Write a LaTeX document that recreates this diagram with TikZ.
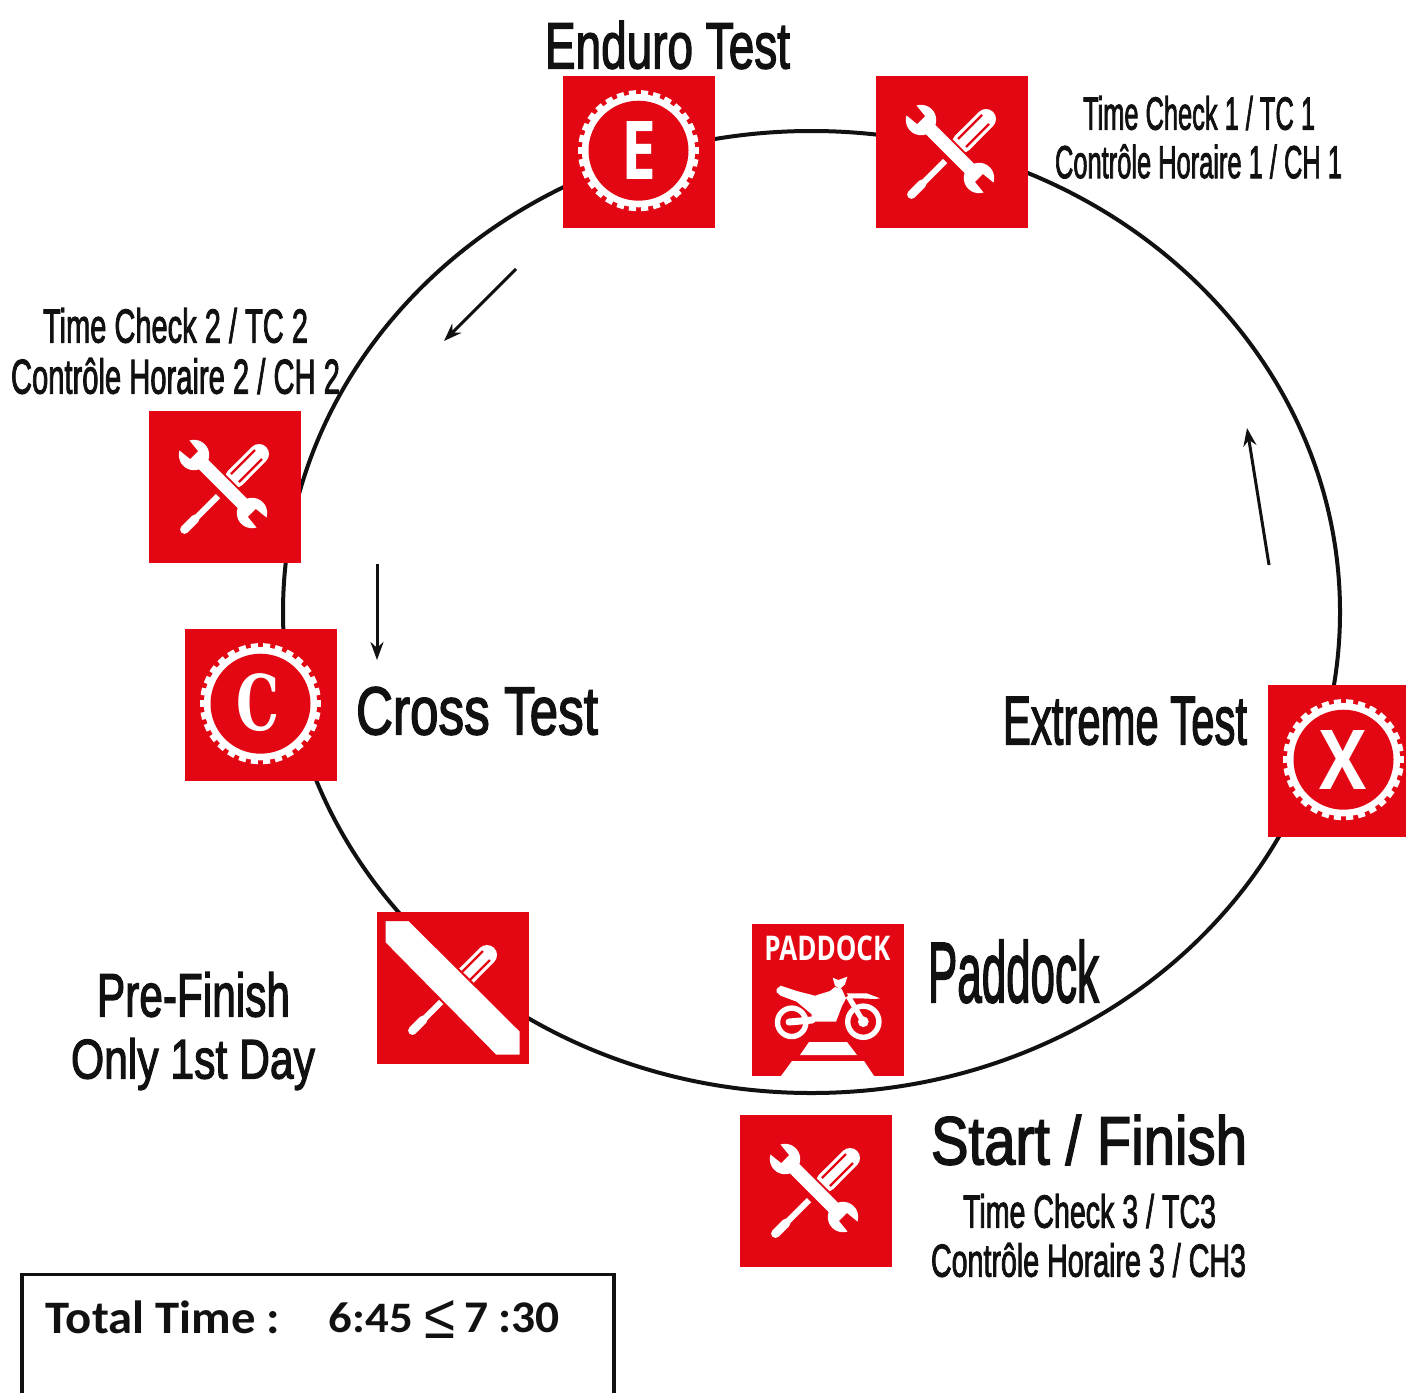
\documentclass[tikz,border=0pt]{standalone}
\usepackage{fontspec}
\usepackage{graphicx}
\usetikzlibrary{calc,arrows.meta}
\setmainfont{Liberation Sans}
\newfontfamily\labf[FakeBold=2.4]{Liberation Sans}
\newfontfamily\iconfam{Open Sans}
\newfontfamily\serfam{DejaVu Serif}
\newfontfamily\carfam{Carlito}
\newcommand\iconf{\iconfam\bfseries}
\newcommand\totf{\carfam\bfseries}
\newfontfamily\symf{Liberation Sans}
\definecolor{ired}{HTML}{E30613}
\definecolor{ink}{HTML}{111111}
\newcommand\lab[6]{\node (#1) [textlab] at (#2) {\resizebox*{#3pt}{#4pt}{#5#6}};}
\tikzset{
  textlab/.style={inner sep=0pt,outer sep=0pt,text=ink,anchor=center},
  iconbox/.style={fill=ired,draw=none,minimum size=76pt,inner sep=0pt,outer sep=0pt,anchor=north west},
  iconletter/.style={inner sep=0pt,outer sep=0pt,text=white},
  flowarrow/.style={draw=ink,line width=1.5pt,-{Stealth[length=9pt,width=6.5pt]}},
  pics/driver/.style={code={
    \draw[white,line width=4.4pt,line cap=round] (35.5,118.5) -- (46,108);
    \draw[white,line width=3pt] (45,109) -- (69,85);
    \draw[white,line width=10pt,line cap=round] (86,67) -- (110,43);
    \fill[white] (79,60) -- (93,74) -- (100,67) -- (86,53) -- cycle;
    \draw[ired,line width=1.1pt] (82,63) -- (106,39);
    \draw[ired,line width=1.1pt] (90,71) -- (113,48);
  }},
  pics/wrench/.style={code={
    \begin{scope}[shift={(74,73)},rotate=-45]
      \draw[ired,line width=8.6pt] (-36,0) -- (36,0);
      \fill[ired] (-41,0) circle[radius=8.6pt];
      \fill[ired] (41,0) circle[radius=8.6pt];
      \draw[white,line width=6.6pt] (-36,0) -- (36,0);
      \fill[white] (-41,0) circle[radius=7.6pt];
      \fill[white] (41,0) circle[radius=7.6pt];
      \fill[ired] (-41,-5.5) -- (-60,-7.5) -- (-60,7.5) -- (-41,5.5) -- cycle;
      \fill[ired] (41,-5.5) -- (60,-7.5) -- (60,7.5) -- (41,5.5) -- cycle;
    \end{scope}
  }},
  pics/band/.style={code={
    \fill[white,draw=ired,line width=1pt] (7.7,8) -- (32,8) -- (143.7,119) -- (143.7,143.7) -- (118.7,143.7) -- (7.7,31) -- cycle;
  }},
  pics/gear/.style={code={
    \foreach \a in {0,12,...,348} {
      \fill[white,shift={(75.5,74.7)},rotate=\a] (52,-3.6) rectangle (60.5,3.6);
    }
    \fill[white] (75.5,74.7) circle[radius=28.3pt];
    \fill[ired] (75.5,74.7) circle[radius=25pt];
  }},
  pics/bike/.style={code={
    \draw[white,line width=2.7pt] (39.7,98.3) circle[radius=7.1pt];
    \draw[white,line width=2.7pt] (111.3,97.7) circle[radius=7.8pt];
    \fill[white] (111.3,97.7) circle[radius=2.7pt];
    \draw[white,line width=3.5pt,line cap=round] (37,98) -- (60,96);
    \draw[white,line width=2.6pt] (111.3,97.7) -- (96,72);
    \fill[white] (24.7,65) -- (28.7,61.7) -- (44.7,67) -- (63,71.7) -- (78,67) -- (83,63) -- (89.7,65) -- (94,74.3) -- (89.7,82.7) -- (84,97.7) -- (59.7,97.7) -- (59.7,90.3) -- (44.7,77.7) -- (28.7,71.7) -- (24.7,68.3) -- cycle;
    \fill[white] (94.7,69.3) -- (114.7,69.3) -- (128,74.3) -- (123,75) -- (108,74.3) -- (98,74.3) -- cycle;
    \fill[white] (80.7,53.7) -- (86.3,56) -- (95.3,52.7) -- (93,60.3) -- (88,65) -- (83,61.7) -- cycle;
    \fill[white] (57,118) -- (95,118) -- (105,131) -- (48,131) -- cycle;
    \fill[white] (40,137) -- (112,137) -- (122,152) -- (29,152) -- cycle;
  }},
}
\begin{document}
\begin{tikzpicture}[x=0.5pt,y=-0.5pt]
\useasboundingbox (0,0) rectangle (1406,1392);
\clip (0,0) rectangle (1406,1392);
\draw[ink,line width=2pt] (811.5,612) ellipse [x radius=264.25pt,y radius=240.5pt];

% icons
\node (boxE) [iconbox] at (563,76) {};
\pic at (boxE.north west) {gear};
\node (letE) [iconletter] at ($(boxE.north west)+(75.5,74)$) {\resizebox*{17.5pt}{29pt}{\iconf E}};

\node (boxTa) [iconbox] at (876,76) {};
\pic at (boxTa.north west) {driver};
\pic at (boxTa.north west) {wrench};

\node (boxTb) [iconbox] at (149,411) {};
\pic at (boxTb.north west) {driver};
\pic at (boxTb.north west) {wrench};

\node (boxC) [iconbox] at (185,629) {};
\pic at (boxC.north west) {gear};
\node (letC) [iconletter] at ($(boxC.north west)+(73.3,73.5)$) {\resizebox*{21.5pt}{29pt}{\serfam\bfseries C}};

\node (boxX) [iconbox] at (1268,685) {};
\pic at (boxX.north west) {gear};
\node (letX) [iconletter] at ($(boxX.north west)+(75.3,75)$) {\resizebox*{23.5pt}{29.5pt}{\iconf X}};

\node (boxP) [iconbox] at (377,912) {};
\pic at (boxP.north west) {driver};
\pic at (boxP.north west) {band};

\node (boxK) [iconbox] at (752,924) {};
\node (letK) [iconletter] at ($(boxK.north west)+(75.3,24)$) {\resizebox*{63pt}{12.5pt}{\iconf PADDOCK}};
\pic at (boxK.north west) {bike};

\node (boxS) [iconbox] at (740,1115) {};
\pic at (boxS.north west) {driver};
\pic at (boxS.north west) {wrench};

% arrows
\coordinate (a1s) at (516,269); \coordinate (a1e) at (444,341);
\coordinate (a2s) at (377,564); \coordinate (a2e) at (377,660);
\coordinate (a3s) at (1269,565); \coordinate (a3e) at (1247,428);
\draw[flowarrow] (a1s) -- (a1e);
\draw[flowarrow] (a2s) -- (a2e);
\draw[flowarrow] (a3s) -- (a3e);

% labels
\lab{tEnduro}{667.5,45}{122.5}{24}{\labf}{Enduro Test}
\lab{tOneA}{1199,113}{116}{17}{\labf}{Time Check 1 / TC 1}
\lab{tOneB}{1198.5,161.5}{143.5}{17}{\labf}{Contrôle Horaire 1 / CH 1}
\lab{tTwoA}{175.5,325.5}{132.5}{17.5}{\labf}{Time Check 2 / TC 2}
\lab{tTwoB}{175.5,376}{164.5}{18}{\labf}{Contrôle Horaire 2 / CH 2}
\lab{tCross}{477,711}{121}{24}{\labf}{Cross Test}
\lab{tExtreme}{1125,721}{122}{24}{\labf}{Extreme Test}
\lab{tPaddock}{1013.5,971.5}{85.5}{31.5}{\labf}{Paddock}
\lab{tStart}{1089,1140}{158}{25}{\labf}{Start / Finish}
\lab{tThrA}{1089.5,1211}{126.5}{17}{\labf}{Time Check 3 / TC3}
\lab{tThrB}{1088.5,1260}{157.5}{17}{\labf}{Contrôle Horaire 3 / CH3}
\lab{tPre}{193.5,994.5}{96.5}{22.5}{\labf}{Pre-Finish}
\lab{tOnly}{193,1064}{122}{26}{\labf}{Only 1st Day}

% total box
\draw[ink,line width=1.8pt] (22,1420) -- (22,1274.5) -- (614,1274.5) -- (614,1420);
\lab{tTotal}{163,1317}{117}{16.5}{\totf}{Total Time :}
\lab{tSix}{371,1318}{42}{15}{\totf}{6:45}
\lab{tLe}{439.5,1319}{15.5}{19}{\symf}{≤}
\lab{tSev}{512,1318}{48}{15}{\totf}{7 :30}
\end{tikzpicture}
\end{document}
